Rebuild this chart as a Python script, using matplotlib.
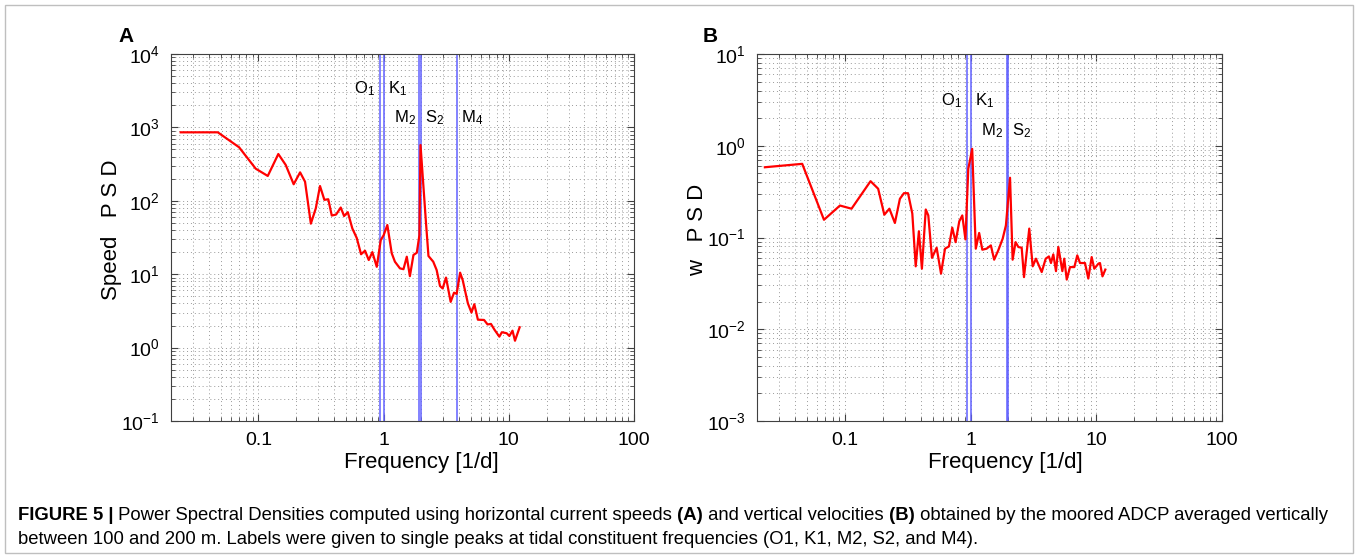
import numpy as np
import matplotlib.pyplot as plt
from matplotlib.patches import Rectangle
from matplotlib.ticker import LogLocator

plt.rcParams['font.family'] = ['Liberation Sans', 'DejaVu Sans']
plt.rcParams['mathtext.fontset'] = 'custom'
plt.rcParams['mathtext.rm'] = 'Liberation Sans'
plt.rcParams['mathtext.it'] = 'Liberation Sans:italic'
plt.rcParams['mathtext.bf'] = 'Liberation Sans:bold'
plt.rcParams['axes.unicode_minus'] = False

# panel A - horizontal current speed PSD
freq_a = [0.0239, 0.0473, 0.070, 0.095, 0.1186, 0.144, 0.165, 0.191, 0.215, 0.2355,
          0.262, 0.287, 0.310, 0.336, 0.361, 0.385, 0.417, 0.454, 0.483, 0.517,
          0.562, 0.610, 0.660, 0.710, 0.760, 0.812, 0.881, 0.948, 1.0, 1.07,
          1.16, 1.23, 1.35, 1.44, 1.53, 1.62, 1.73, 1.84, 1.93, 1.97,
          2.17, 2.28, 2.49, 2.65, 2.82, 2.96, 3.15, 3.29, 3.43, 3.65,
          3.83, 4.08, 4.28, 4.71, 5.03, 5.3, 5.66, 6.34, 6.76, 7.2,
          7.7, 8.4, 8.8, 9.6, 10.1, 10.7, 11.2, 12.2]
psd_a = [857, 857, 536, 274, 218, 434, 308, 168, 244, 182,
         48.8, 79, 159, 103, 105, 63, 65, 81, 62, 70,
         42, 31, 18.7, 20.9, 15.6, 20, 12.6, 29.2, 34, 46.8,
         19.3, 14.8, 12.0, 11.7, 17.3, 9.4, 18.3, 19.6, 34, 575,
         55, 17.7, 14.8, 11.4, 6.9, 6.4, 9.0, 6.1, 4.2, 5.6,
         5.4, 10.5, 8.3, 4.0, 3.0, 3.9, 2.4, 2.38, 2.07, 2.1,
         1.74, 1.41, 1.62, 1.57, 1.44, 1.70, 1.24, 1.89]

# panel B - vertical velocity PSD
freq_b = [0.0231, 0.0458, 0.0682, 0.0914, 0.113, 0.160, 0.184, 0.206, 0.226, 0.250,
          0.274, 0.295, 0.318, 0.344, 0.366, 0.388, 0.410, 0.440, 0.461, 0.493,
          0.537, 0.582, 0.626, 0.673, 0.715, 0.760, 0.813, 0.859, 0.910, 0.959,
          1.03, 1.10, 1.17, 1.24, 1.34, 1.45, 1.54, 1.66, 1.80, 1.91,
          2.06, 2.16, 2.28, 2.40, 2.55, 2.66, 2.93, 3.12, 3.31, 3.68,
          3.96, 4.20, 4.36, 4.55, 4.78, 4.99, 5.37, 5.56, 5.82, 6.18,
          6.69, 7.06, 7.42, 8.13, 8.64, 9.19, 9.64, 10.4, 10.7, 11.2, 11.8]
psd_b = [0.583, 0.635, 0.156, 0.223, 0.206, 0.411, 0.340, 0.177, 0.206, 0.144,
         0.264, 0.304, 0.304, 0.182, 0.0485, 0.117, 0.0457, 0.202, 0.174, 0.060,
         0.0774, 0.0404, 0.0755, 0.080, 0.128, 0.089, 0.150, 0.174, 0.0953, 0.561,
         0.925, 0.0755, 0.112, 0.0736, 0.0755, 0.082, 0.0573, 0.0724, 0.097, 0.1355,
         0.448, 0.0573, 0.089, 0.0787, 0.0774, 0.037, 0.125, 0.0485, 0.0588, 0.042,
         0.0588, 0.0622, 0.0527, 0.0655, 0.043, 0.0787, 0.043, 0.0588, 0.0348, 0.0476,
         0.0476, 0.0638, 0.0527, 0.0527, 0.0357, 0.0612, 0.0457, 0.0519, 0.0527, 0.0377, 0.0447]

tide_names = ['O$_1$', 'K$_1$', 'M$_2$', 'S$_2$', 'M$_4$']
tide_freqs = [0.9295, 1.0027, 1.9323, 2.0, 3.8645]

W, H = 1358, 558
fig = plt.figure(figsize=(W / 100, H / 100), dpi=100)

def px(x0, y0, x1, y1):
    return [x0 / W, 1 - y1 / H, (x1 - x0) / W, (y1 - y0) / H]

ax_a = fig.add_axes(px(171, 54, 634, 421))
ax_b = fig.add_axes(px(757, 54, 1222, 421))

spine_col = '0.25'
for ax in (ax_a, ax_b):
    ax.set_xscale('log')
    ax.set_yscale('log')
    ax.set_xlim(0.02, 100)
    ax.grid(True, which='both', linestyle=(0, (1, 3)), color='0.6', lw=0.7)
    ax.set_xticks([0.1, 1, 10, 100])
    ax.set_xticklabels(['0.1', '1', '10', '100'])
    ax.xaxis.set_minor_locator(LogLocator(base=10, subs=np.arange(2, 10), numticks=20))
    ax.yaxis.set_minor_locator(LogLocator(base=10, subs=np.arange(2, 10), numticks=20))
    ax.tick_params(which='both', direction='in', top=True, right=True,
                   colors=spine_col, labelcolor='black', labelsize=14, pad=8)
    ax.tick_params(which='major', length=5)
    ax.tick_params(which='minor', length=3)
    for s in ax.spines.values():
        s.set_color(spine_col)
    for f in tide_freqs[:4]:
        ax.axvline(f, color='#6060ff', lw=1.1, zorder=2)
    ax.set_xlabel('Frequency [1/d]', fontsize=16, labelpad=2)

ax_a.axvline(tide_freqs[4], color='#6060ff', lw=1.1, zorder=2)

ax_a.plot(freq_a, psd_a, color='red', lw=1.6, zorder=3)
ax_a.set_ylim(0.1, 1e4)
ax_a.set_ylabel('Speed   P S D', fontsize=16)
ax_a.xaxis.set_label_coords(0.541, -0.085)
ax_a.yaxis.set_label_coords(-0.105, 0.52)

ax_b.plot(freq_b, psd_b, color='red', lw=1.6, zorder=3)
ax_b.set_ylim(1e-3, 10)
ax_b.set_ylabel('w   P S D', fontsize=16)
ax_b.xaxis.set_label_coords(0.535, -0.085)
ax_b.yaxis.set_label_coords(-0.105, 0.52)

# tidal constituent labels
lab_kw = dict(fontsize=12, va='center')
ax_a.text(0.86, 3400, tide_names[0], ha='right', **lab_kw)
ax_a.text(1.09, 3400, tide_names[1], ha='left', **lab_kw)
ax_a.text(1.82, 1340, tide_names[2], ha='right', **lab_kw)
ax_a.text(2.12, 1340, tide_names[3], ha='left', **lab_kw)
ax_a.text(4.15, 1340, tide_names[4], ha='left', **lab_kw)

ax_b.text(0.86, 3.1, tide_names[0], ha='right', **lab_kw)
ax_b.text(1.09, 3.1, tide_names[1], ha='left', **lab_kw)
ax_b.text(1.82, 1.46, tide_names[2], ha='right', **lab_kw)
ax_b.text(2.12, 1.46, tide_names[3], ha='left', **lab_kw)

fig.text(118 / W, 1 - 36 / H, 'A', fontsize=15, fontweight='bold', va='center')
fig.text(703 / W, 1 - 36 / H, 'B', fontsize=15, fontweight='bold', va='center')

# frame around the figure
fig.patches.append(Rectangle((5 / W, 5 / H), (W - 10) / W, (H - 10) / H,
                             transform=fig.transFigure, fill=False,
                             edgecolor='0.75', lw=1))

# caption with bold pieces
line1 = [('FIGURE 5 |', True), (' Power Spectral Densities computed using horizontal current speeds', False),
         (' (A)', True), (' and vertical velocities', False), (' (B)', True),
         (' obtained by the moored ADCP averaged vertically', False)]
line2 = [('between 100 and 200 m. Labels were given to single peaks at tidal '
          'constituent frequencies (O1, K1, M2, S2, and M4).', False)]

fig.canvas.draw()
renderer = fig.canvas.get_renderer()

def caption_line(parts, x, y):
    for s, bold in parts:
        t = fig.text(x / W, 1 - y / H, s, fontsize=13.3,
                     fontweight='bold' if bold else 'normal', va='center')
        w, h, d = renderer.get_text_width_height_descent(
            s, t.get_fontproperties(), ismath=False)
        x += w

caption_line(line1, 18, 515)
caption_line(line2, 18, 540)

fig.savefig('out.png', dpi=100)
